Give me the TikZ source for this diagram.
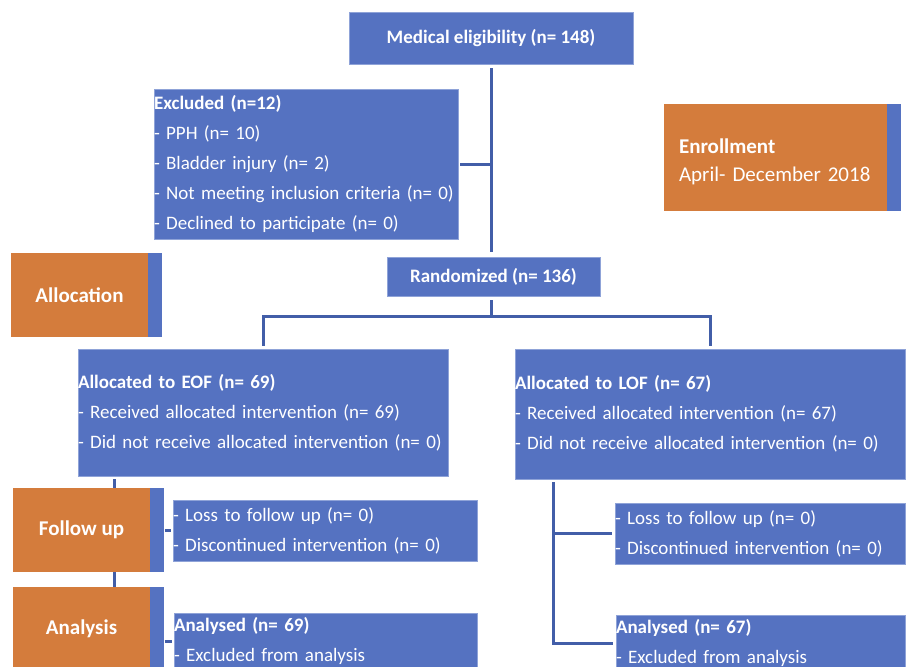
\documentclass[tikz,border=0pt]{standalone}
\usepackage{fontspec}
\setmainfont{Carlito}
\usetikzlibrary{positioning}
\definecolor{boxblue}{RGB}{85,114,193}
\definecolor{edgeblue}{RGB}{143,163,216}
\definecolor{lineblue}{RGB}{66,94,168}
\definecolor{stageorange}{RGB}{212,124,60}
\begin{document}
\begin{tikzpicture}[x=1pt,y=-1pt,
  box/.style={rectangle, fill=boxblue, draw=edgeblue, line width=0.6pt, text=white, inner sep=0pt, font=\fontsize{19}{30}\selectfont},
  listbox/.style={box, align=left},
  stage/.style={rectangle, fill=stageorange, text=white, inner sep=0pt, font=\fontsize{21}{28}\selectfont\bfseries},
  strip/.style={rectangle, fill=boxblue, inner sep=0pt, minimum width=14pt},
  conn/.style={draw=lineblue, line width=3pt}]
\useasboundingbox (0,0) rectangle (906,667);
\clip (0,0) rectangle (906,667);
% enrollment
\node[box, font=\fontsize{19}{30}\selectfont\bfseries, minimum width=284pt, minimum height=52pt] (med) at (491,38) {Medical eligibility (n= 148)};
\node[listbox, text width=304pt, minimum height=150pt] (excl) at (306,164) {\textbf{Excluded (n=12)}\\- PPH (n= 10)\\- Bladder injury (n= 2)\\- Not meeting inclusion criteria (n= 0)\\- Declined to participate (n= 0)};
\node[stage, align=left, font=\fontsize{21}{28}\selectfont, inner xsep=15pt, text width=193pt, minimum height=107pt] (enrol) at (775.5,157.5) {\rule{0pt}{24pt}\textbf{Enrollment}\\April- December 2018};
\node[strip, anchor=west, minimum height=107pt] (enrolstrip) at (enrol.east) {};
\node[box, font=\fontsize{19}{30}\selectfont\bfseries, minimum width=213pt, minimum height=39pt] (rand) at (493.5,276.5) {Randomized (n= 136)};
\draw[conn, shorten <=4pt, shorten >=5pt] (med.south) -- (med.south |- rand.north);
\draw[conn, shorten <=2pt] (excl.east) -- (excl.east -| med.south);
% allocation
\node[stage, minimum width=137pt, minimum height=84pt] (alloc) at (79.5,295) {Allocation};
\node[strip, anchor=west, minimum height=84pt] (allocstrip) at (alloc.east) {};
\node[listbox, text width=370pt, minimum height=127pt] (eof) at (263,412.5) {\textbf{Allocated to EOF (n= 69)}\\- Received allocated intervention (n= 69)\\- Did not receive allocated intervention (n= 0)};
\node[listbox, text width=390pt, minimum height=130pt] (lof) at (710,414) {\textbf{Allocated to LOF (n= 67)}\\- Received allocated intervention (n= 67)\\- Did not receive allocated intervention (n= 0)};
\coordinate (split) at (491,316);
\draw[conn, shorten <=4pt] (med.south |- rand.south) -- (split);
\draw[conn, shorten >=3pt] (split) -| (eof.north);
\draw[conn, shorten >=3pt] (split) -| (lof.north);
% follow up
\node[stage, minimum width=137pt, minimum height=84pt] (fu) at (81.5,530) {Follow up};
\node[strip, anchor=west, minimum height=84pt] (fustrip) at (fu.east) {};
\node[listbox, text width=304pt, minimum height=61pt] (fuleft) at (325,530.5) {- Loss to follow up (n= 0)\\- Discontinued intervention (n= 0)};
\node[listbox, text width=290pt, minimum height=61pt] (furight) at (760,533.5) {- Loss to follow up (n= 0)\\- Discontinued intervention (n= 0)};
% analysis
\node[stage, minimum width=137pt, minimum height=84pt] (ana) at (81.5,629) {Analysis};
\node[strip, anchor=west, minimum height=84pt] (anastrip) at (ana.east) {};
\node[listbox, text width=303pt, minimum height=56pt] (analeft) at (325.5,641) {\textbf{Analysed (n= 69)}\\- Excluded from analysis};
\node[listbox, text width=289pt, minimum height=56pt] (anaright) at (760.5,643) {\textbf{Analysed (n= 67)}\\- Excluded from analysis};
% left arm
\coordinate (lstem) at (114,0);
\draw[conn, shorten <=3pt] (lstem |- eof.south) -- (lstem |- fu.north);
\draw[conn] (lstem |- fu.south) -- (lstem |- ana.north);
\draw[conn, shorten >=2pt] (fustrip.east |- fuleft.west) -- (fuleft.west);
\draw[conn, shorten >=2pt] (anastrip.east |- analeft.west) -- (analeft.west);
% right arm
\coordinate (rstem) at (553,0);
\draw[conn, shorten <=3pt, shorten >=3pt] (rstem |- lof.south) |- (furight.west);
\draw[conn, shorten <=3pt, shorten >=3pt] (rstem |- lof.south) |- (anaright.west);
\end{tikzpicture}
\end{document}
